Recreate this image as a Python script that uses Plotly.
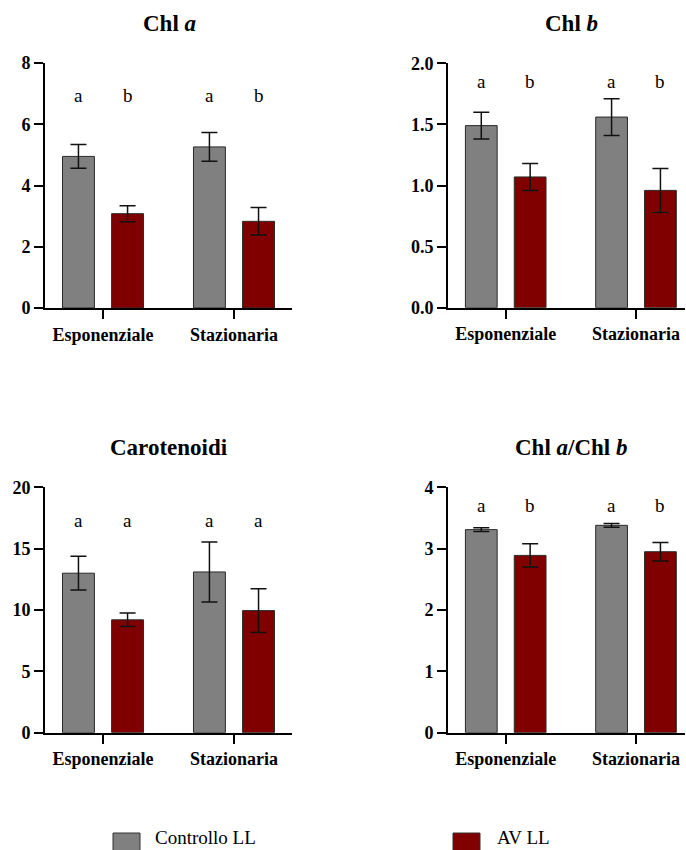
import plotly.graph_objects as go

# Growth phases (x categories)
phases = ["Esponenziale", "Stazionaria"]
series_names = ["Controllo LL", "AV LL"]
series_colors = ["#808080", "#800000"]

# Pigment contents: means and error (SD) per series, per phase
chla_ctrl = [4.95, 5.26]
chla_ctrl_err = [0.39, 0.47]
chla_av = [3.08, 2.83]
chla_av_err = [0.26, 0.45]

chlb_ctrl = [1.49, 1.56]
chlb_ctrl_err = [0.11, 0.15]
chlb_av = [1.07, 0.96]
chlb_av_err = [0.11, 0.18]

car_ctrl = [13.0, 13.1]
car_ctrl_err = [1.38, 2.44]
car_av = [9.2, 9.95]
car_av_err = [0.55, 1.78]

ratio_ctrl = [3.31, 3.38]
ratio_ctrl_err = [0.03, 0.03]
ratio_av = [2.89, 2.95]
ratio_av_err = [0.19, 0.15]

# Significance letters (ctrl, av) per phase
chla_letters = [["a", "b"], ["a", "b"]]
chlb_letters = [["a", "b"], ["a", "b"]]
car_letters = [["a", "a"], ["a", "a"]]
ratio_letters = [["a", "b"], ["a", "b"]]

panel_titles = ["Chl <i>a</i>", "Chl <i>b</i>", "Carotenoidi", "Chl <i>a</i>/Chl <i>b</i>"]
y_ranges = [[0, 8], [0, 2], [0, 20], [0, 4]]
y_dticks = [2, 0.5, 5, 1]
y_formats = ["d", ".1f", "d", "d"]
letter_levels = [6.93, 1.85, 17.3, 3.70]

panels = [
    (chla_ctrl, chla_ctrl_err, chla_av, chla_av_err, chla_letters),
    (chlb_ctrl, chlb_ctrl_err, chlb_av, chlb_av_err, chlb_letters),
    (car_ctrl, car_ctrl_err, car_av, car_av_err, car_letters),
    (ratio_ctrl, ratio_ctrl_err, ratio_av, ratio_av_err, ratio_letters),
]

W, H = 686, 850
FONT = "Liberation Serif, Times New Roman, serif"

# Panel layout in pixels: (left, right, top, bottom)
boxes = [
    (45, 292, 63, 308),
    (448, 685, 63.3, 307.7),
    (45, 292, 487.3, 732.7),
    (448, 685, 487.3, 732.7),
]
# horizontal centre of each panel title, pixels
title_centers = [169, 571, 169, 571]
x_ranges = [[-0.443, 1.443], [-0.443, 1.376], [-0.443, 1.443], [-0.443, 1.376]]

BARGAP = 0.25
BARGROUPGAP = 0.35
slot = (1 - BARGAP) / 2

fig = go.Figure()

for k, (ctrl, ctrl_err, av, av_err, letters) in enumerate(panels):
    xa = "x" if k == 0 else f"x{k + 1}"
    ya = "y" if k == 0 else f"y{k + 1}"
    for s, (vals, errs) in enumerate([(ctrl, ctrl_err), (av, av_err)]):
        fig.add_trace(go.Bar(
            x=phases, y=vals,
            name=series_names[s],
            offsetgroup=str(s),
            marker=dict(color=series_colors[s], line=dict(color="#2a2a2a", width=1)),
            error_y=dict(type="data", array=errs, color="#111111", thickness=1.5, width=8),
            showlegend=False,
            xaxis=xa, yaxis=ya,
        ))
    # letters above each bar
    for i in range(len(phases)):
        for s in range(2):
            fig.add_annotation(
                x=i + (s - 0.5) * slot, y=letter_levels[k],
                xref=xa, yref=ya, text=letters[i][s], showarrow=False,
                yanchor="middle",
                font=dict(family=FONT, size=19, color="black"),
            )
    left, right, top, bottom = boxes[k]
    xdom = [left / W, right / W]
    ydom = [1 - bottom / H, 1 - top / H]
    axis_common = dict(
        showline=True, linecolor="black", linewidth=2,
        ticks="outside", ticklen=9, tickwidth=2, tickcolor="black",
        showgrid=False, zeroline=False, automargin=False,
        tickfont=dict(family=FONT, size=18, color="black", weight="bold"),
    )
    fig.update_layout(**{
        ("xaxis" if k == 0 else f"xaxis{k + 1}"): dict(
            domain=xdom, anchor=ya, range=x_ranges[k], type="category", **axis_common),
        ("yaxis" if k == 0 else f"yaxis{k + 1}"): dict(
            domain=ydom, anchor=xa, range=y_ranges[k], dtick=y_dticks[k],
            tickformat=y_formats[k], **axis_common),
    })
    fig.add_annotation(
        x=title_centers[k] / W, y=1 - (top - 40) / H, xref="paper", yref="paper",
        xanchor="center", yanchor="middle",
        text=f"<b>{panel_titles[k]}</b>", showarrow=False,
        font=dict(family=FONT, size=23, color="black"),
    )

# Legend: swatches and labels along the bottom
legend_items = [(113, 153), (453, 495)]
for s, (sx, tx) in enumerate(legend_items):
    fig.add_shape(
        type="rect", xref="paper", yref="paper",
        x0=sx / W, x1=(sx + 27) / W, y0=1 - 858 / H, y1=1 - 833 / H,
        fillcolor=series_colors[s], line=dict(color="#333333", width=1),
    )
    fig.add_annotation(
        x=tx / W, y=0, xref="paper", yref="paper",
        xanchor="left", yanchor="bottom", text=series_names[s], showarrow=False,
        font=dict(family=FONT, size=19, color="black"),
    )

fig.update_layout(
    width=W, height=H,
    margin=dict(l=0, r=0, t=0, b=0, pad=0),
    paper_bgcolor="white", plot_bgcolor="white",
    barmode="group", bargap=BARGAP, bargroupgap=BARGROUPGAP,
    showlegend=False,
)

fig.write_html("out.html")
